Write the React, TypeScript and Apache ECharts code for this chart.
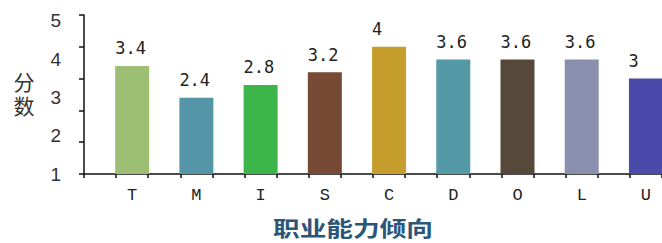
import React, { useEffect, useRef } from "react";
import * as echarts from "echarts";

const categories = ["T", "M", "I", "S", "C", "D", "O", "L", "U"];
const scores = [3.4, 2.4, 2.8, 3.2, 4, 3.6, 3.6, 3.6, 3];
const barColors = ["#9dbf73", "#5496a8", "#3cb54a", "#774a36", "#c49d2c", "#5499a6", "#57493a", "#8b8fae", "#4a4aab"];
const yTickLabels = [1, 2, 3, 4, 5];
const xTitle = "职业能力倾向";
const yTitleChars = ["分", "数"];

export default function App() {
  const ref = useRef<HTMLDivElement>(null);
  useEffect(() => {
    document.body.style.margin = "0";
    if (!ref.current) return;
    const chart = echarts.init(ref.current, null, { renderer: "svg" });
    const axisData: string[] = [];
    const seriesData: any[] = [];
    categories.forEach((c, i) => {
      axisData.push("");
      axisData.push(c);
      seriesData.push("-");
      seriesData.push({ value: scores[i], itemStyle: { color: barColors[i] } });
    });
    chart.setOption({
      animation: false,
      backgroundColor: "#ffffff",
      grid: { left: 84, right: 0, top: 15, bottom: 69, containLabel: false },
      xAxis: {
        type: "category",
        data: axisData,
        boundaryGap: true,
        axisLine: { show: true, lineStyle: { color: "#111", width: 1.5 } },
        axisTick: { show: true, interval: 0, length: 4, lineStyle: { color: "#111", width: 1.5 } },
        axisLabel: {
          interval: 0,
          margin: 13,
          fontFamily: "Liberation Mono",
          fontSize: 17,
          color: "#222",
        },
      },
      yAxis: [
        {
          type: "value",
          min: 0,
          max: 5,
          interval: 1,
          axisLine: { show: true, lineStyle: { color: "#111", width: 1.5 } },
          axisTick: { show: true, length: 5, lineStyle: { color: "#111", width: 1.5 } },
          axisLabel: { show: false },
          splitLine: { show: false },
        },
        {
          type: "value",
          position: "left",
          min: 1,
          max: 5.15,
          interval: 1,
          axisLine: { show: false },
          axisTick: { show: false },
          splitLine: { show: false },
          axisLabel: {
            margin: 23,
            fontFamily: "Liberation Sans",
            fontSize: 19,
            color: "#333",
            formatter: (v: number) => (yTickLabels.includes(v) ? String(v) : ""),
          },
        },
      ],
      series: [
        {
          type: "bar",
          yAxisIndex: 0,
          data: seriesData,
          barWidth: 34,
          label: {
            show: true,
            position: "top",
            distance: 9,
            align: "left",
            offset: [-17, 0],
            fontFamily: "DejaVu Sans Mono",
            fontSize: 17,
            color: "#222",
          },
        },
      ],
      graphic: [
        {
          type: "text",
          x: 353,
          y: 227,
          scaleX: 1.27,
          style: {
            text: xTitle,
            fontFamily: "Noto Sans CJK SC",
            fontWeight: "bold",
            fontSize: 21,
            fill: "#2d5577",
            textAlign: "center",
            textVerticalAlign: "middle",
          },
        },
        ...yTitleChars.map((ch, i) => ({
          type: "text",
          x: 24,
          y: 81 + i * 24,
          style: {
            text: ch,
            fontFamily: "Noto Sans CJK SC",
            fontSize: 21,
            fill: "#333",
            textAlign: "center",
            textVerticalAlign: "middle",
          },
        })),
      ],
    });
    return () => chart.dispose();
  }, []);
  return <div ref={ref} style={{ width: 662, height: 243 }} />;
}
